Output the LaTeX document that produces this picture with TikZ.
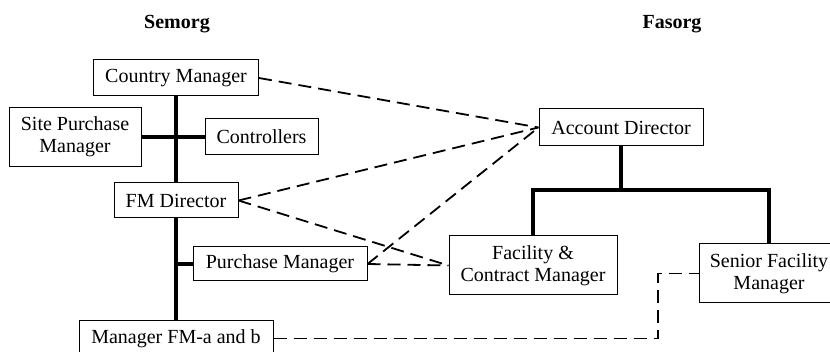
\documentclass[tikz,border=0pt]{standalone}
\usepackage{fontspec}
\setmainfont{Liberation Serif}
\begin{document}
\begin{tikzpicture}[x=0.5pt,y=-0.5pt,
    orgbox/.style={draw, line width=0.5pt, align=center, inner sep=0pt,
                   font=\fontsize{10}{11}\selectfont},
    solidlink/.style={line width=1.6pt},
    dashlink/.style={line width=0.9pt, dash pattern=on 6.5pt off 3.5pt}]
  \useasboundingbox (0,0) rectangle (830,352);
  % titles
  \node[font=\bfseries] (semorg) at (177,24) {Semorg};
  \node[font=\bfseries] (fasorg) at (672,24) {Fasorg};

  % Semorg boxes
  \node[orgbox, minimum width=82.5pt, minimum height=18pt]   (country)     at (176,78)    {Country Manager};
  \node[orgbox, minimum width=66pt,   minimum height=29.5pt] (site)        at (75,137)    {Site Purchase\\Manager};
  \node[orgbox, minimum width=56.5pt, minimum height=18pt]   (controllers) at (261.5,137) {Controllers};
  \node[orgbox, minimum width=62pt,   minimum height=17.5pt] (fmdir)       at (176,200.5) {FM Director};
  \node[orgbox, minimum width=87pt,   minimum height=17pt]   (purchase)    at (280,264)   {Purchase Manager};
  \node[orgbox, minimum width=97pt,   minimum height=17.5pt] (managerfm)   at (176,338.5) {Manager FM-a and b};

  % Fasorg boxes
  \node[orgbox, minimum width=82pt, minimum height=18.5pt] (account)  at (621,127.5) {Account Director};
  \node[orgbox, minimum width=84pt, minimum height=29.5pt] (facility) at (533,265.5) {Facility \&\\Contract Manager};
  \node[orgbox, minimum width=70pt, minimum height=29.5pt] (senior)   at (769,273.5) {Senior Facility\\Manager};

  % Semorg hierarchy
  \draw[solidlink] (country.south) -- (fmdir.north)
                   (fmdir.south)   -- (managerfm.north)
                   (site.east)     -- (controllers.west)
                   (purchase.west) -- (fmdir.south |- purchase.west);

  % Fasorg hierarchy
  \coordinate (split) at (621,190);
  \draw[solidlink] (account.south) -- (split);
  \draw[solidlink] (facility.north) |- (split) -| (senior.north);

  % contacts between the two organisations
  \draw[dashlink] (country.east)  -- (account.west);
  \draw[dashlink] (fmdir.east)    -- (account.west);
  \draw[dashlink] (fmdir.east)    -- (facility.west);
  \draw[dashlink] (purchase.east) -- (account.west);
  \draw[dashlink] (purchase.east) -- (facility.west);
  \coordinate (dogleg) at (658,273.5);
  \draw[dashlink] (managerfm.east) -| (dogleg) -- (senior.west);
\end{tikzpicture}
\end{document}
